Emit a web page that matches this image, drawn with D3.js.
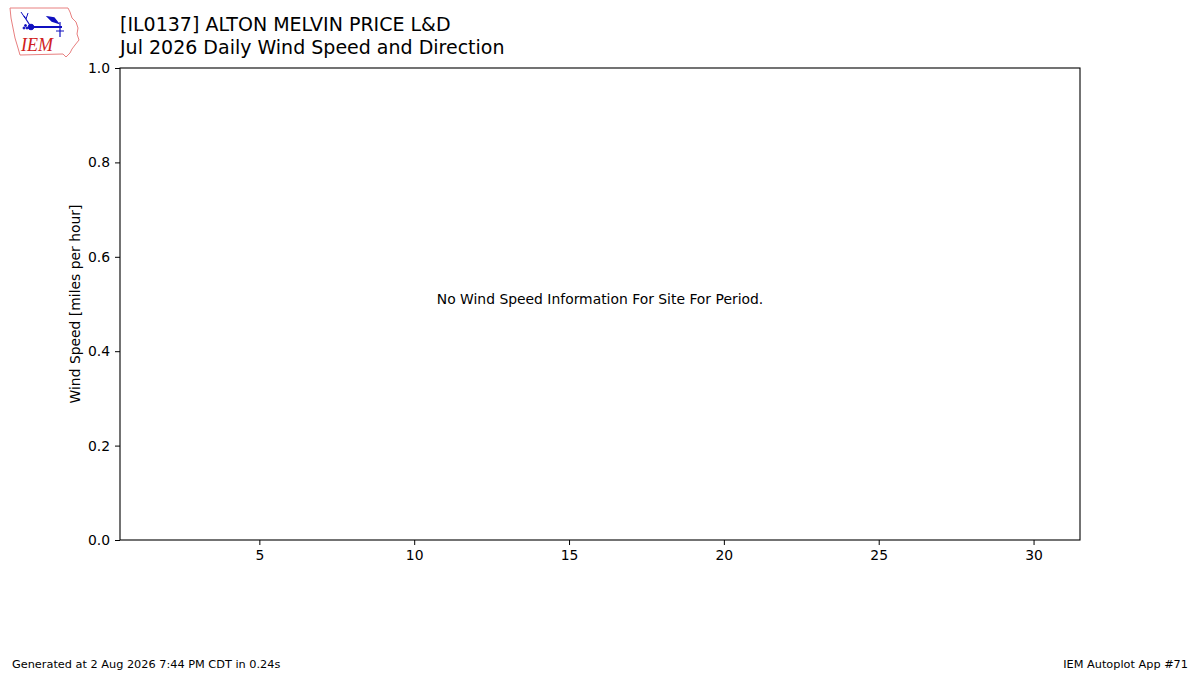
<!DOCTYPE html>
<html>
<head>
<meta charset="utf-8">
<script src="https://cdn.jsdelivr.net/npm/d3@7"></script>
<style>
  body { margin: 0; background: #fff; }
  svg { display: block; font-family: "DejaVu Sans", sans-serif; }
</style>
</head>
<body>
<script>
// chart values
const stationId = "IL0137";
const stationName = "ALTON MELVIN PRICE L&D";
const periodLabel = "Jul 2026";
const days = [];          // no observations for the period
const windSpeed = [];     // mph
const xTicks = [5, 10, 15, 20, 25, 30];
const yTicks = [0.0, 0.2, 0.4, 0.6, 0.8, 1.0];
const noDataMessage = "No Wind Speed Information For Site For Period.";
const footerLeft = "Generated at 2 Aug 2026 7:44 PM CDT in 0.24s";
const footerRight = "IEM Autoplot App #71";

const width = 1200, height = 675;
const margin = {top: 68, right: 120, bottom: 135, left: 120};

const svg = d3.select("body").append("svg")
    .attr("width", width)
    .attr("height", height);

const x = d3.scaleLinear()
    .domain([0.5, 31.5])
    .range([margin.left, width - margin.right]);

const y = d3.scaleLinear()
    .domain([0, 1])
    .range([height - margin.bottom, margin.top]);

// axes
svg.append("g")
    .attr("transform", `translate(0,${height - margin.bottom})`)
    .call(d3.axisBottom(x).tickValues(xTicks).tickSize(5).tickPadding(5).tickFormat(d3.format("d")))
    .call(g => g.select(".domain").remove())
    .call(g => g.selectAll("text").attr("font-size", 13.9).attr("fill", "#000").attr("font-family", "DejaVu Sans"));

svg.append("g")
    .attr("transform", `translate(${margin.left},0)`)
    .call(d3.axisLeft(y).tickValues(yTicks).tickSize(5).tickPadding(5).tickFormat(d3.format(".1f")))
    .call(g => g.select(".domain").remove())
    .call(g => g.selectAll("text").attr("font-size", 13.9).attr("fill", "#000").attr("font-family", "DejaVu Sans"));

// frame
svg.append("rect")
    .attr("x", x.range()[0])
    .attr("y", y.range()[1])
    .attr("width", x.range()[1] - x.range()[0])
    .attr("height", y.range()[0] - y.range()[1])
    .attr("fill", "none")
    .attr("stroke", "#000")
    .attr("stroke-width", 1.1);

// bars (none for this period)
svg.append("g")
    .attr("fill", "#1f77b4")
    .selectAll("rect")
    .data(days.map((d, i) => ({day: d, speed: windSpeed[i]})))
    .join("rect")
    .attr("x", d => x(d.day - 0.4))
    .attr("width", d => x(d.day + 0.4) - x(d.day - 0.4))
    .attr("y", d => y(d.speed))
    .attr("height", d => y(0) - y(d.speed));

if (days.length === 0) {
  svg.append("text")
      .attr("x", (x.range()[0] + x.range()[1]) / 2)
      .attr("y", y(0.5) - 4)
      .attr("text-anchor", "middle")
      .attr("dominant-baseline", "middle")
      .attr("font-size", 13.9)
      .text(noDataMessage);
}

// y label
svg.append("text")
    .attr("transform", `translate(80,${(y.range()[0] + y.range()[1]) / 2}) rotate(-90)`)
    .attr("text-anchor", "middle")
    .attr("font-size", 13.9)
    .text("Wind Speed [miles per hour]");

// titles
svg.append("text").attr("x", 120).attr("y", 31).attr("font-size", 19)
    .text(`[${stationId}] ${stationName}`);
svg.append("text").attr("x", 120).attr("y", 54).attr("font-size", 19)
    .text(`${periodLabel} Daily Wind Speed and Direction`);

// footer
svg.append("text").attr("x", 12).attr("y", 668).attr("font-size", 11.3).text(footerLeft);
svg.append("text").attr("x", 1188).attr("y", 668).attr("font-size", 11.3)
    .attr("text-anchor", "end").text(footerRight);

// IEM logo (rough Iowa outline with wind symbol)
const logo = svg.append("g");
logo.append("path")
    .attr("d", "M10,8 L68,8 L70,12 L72,18 L76,22 L78,28 L77,34 L79,40 L75,45 L72,49 L70,53 L66,57 L63,54 L20,55 L18,48 L15,38 L13,28 L11,18 Z")
    .attr("fill", "#fff")
    .attr("stroke", "#e88080")
    .attr("stroke-width", 1);
const w = logo.append("g").attr("stroke", "#1010c0").attr("fill", "#1010c0");
w.append("line").attr("x1", 31).attr("y1", 27).attr("x2", 62).attr("y2", 27).attr("stroke-width", 2);
w.append("circle").attr("cx", 31).attr("cy", 27).attr("r", 2.8);
w.append("path").attr("d", "M48,17 L54,18 L58,23 L52,21 Z").attr("stroke-width", 1.5);
w.append("line").attr("x1", 60).attr("y1", 22).attr("x2", 60).attr("y2", 37).attr("stroke-width", 1.2);
w.append("line").attr("x1", 56).attr("y1", 31).attr("x2", 64).attr("y2", 31).attr("stroke-width", 1);
w.append("line").attr("x1", 31).attr("y1", 27).attr("x2", 24).attr("y2", 16).attr("stroke-width", 1.2);
w.append("line").attr("x1", 25).attr("y1", 18).attr("x2", 21).attr("y2", 12).attr("stroke-width", 1);
w.append("line").attr("x1", 26).attr("y1", 19).attr("x2", 28).attr("y2", 13).attr("stroke-width", 1);
w.append("circle").attr("cx", 24).attr("cy", 28).attr("r", 1);
w.append("circle").attr("cx", 27).attr("cy", 28).attr("r", 1);
w.append("circle").attr("cx", 25.5).attr("cy", 25.5).attr("r", 1);
logo.append("text").attr("x", 21).attr("y", 51)
    .attr("font-family", "Liberation Serif, serif")
    .attr("font-style", "italic")
    .attr("font-size", 18)
    .attr("fill", "#d02020")
    .text("IEM");
</script>
</body>
</html>
